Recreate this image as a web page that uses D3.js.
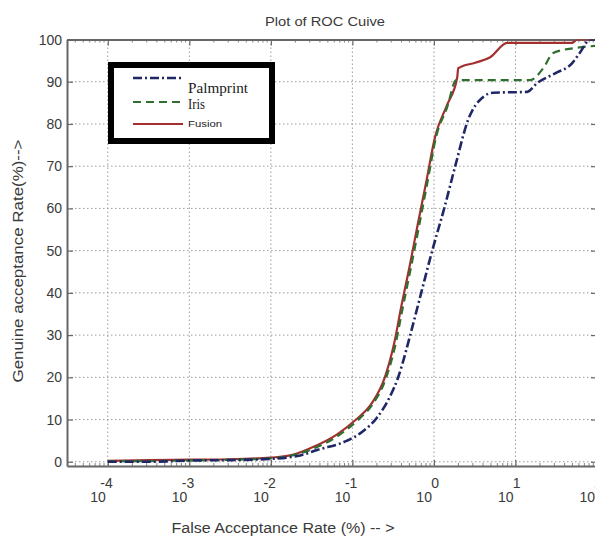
<!DOCTYPE html>
<html>
<head>
<meta charset="utf-8">
<script src="https://cdn.jsdelivr.net/npm/d3@7"></script>
<style>
  html, body { margin: 0; padding: 0; background: #fff; }
  svg { display: block; }
</style>
</head>
<body>
<svg id="chart" width="595" height="541"></svg>
<script>
// False acceptance rate (%) and genuine acceptance rate (%) for each matcher
const palmprintFar = [1e-4, 3.3e-4, 1e-3, 3.2e-3, 0.01, 0.0229, 0.0369, 0.0862, 0.13, 0.201, 0.29, 0.364, 0.408, 0.512, 0.698, 0.953, 1.337, 1.824, 2.63, 4.02, 5.33, 13.9, 18.5, 30.7, 49.7, 62.3, 82.6, 100];
const palmprintGar = [0, 0, 0.3, 0.4, 0.7, 1.5, 2.8, 5, 7, 10.5, 15.5, 20, 23, 30, 40, 50, 60, 70, 81, 86.4, 87.4, 87.6, 89.7, 92, 94.4, 97, 100, 100];

const irisFar = [1e-4, 1e-3, 0.01, 0.0303, 0.065, 0.111, 0.175, 0.255, 0.335, 0.41, 0.51, 0.645, 0.82, 1.066, 1.455, 1.875, 15.2, 21.9, 29.0, 54.1, 100];
const irisGar = [0.1, 0.3, 0.8, 2.8, 6, 9.5, 13.5, 19.5, 27.5, 36, 45, 55, 65.5, 77, 84, 90.4, 90.4, 93.2, 96.8, 98, 98.5];

const fusionFar = [1e-4, 3.3e-4, 1e-3, 3.2e-3, 0.01, 0.0172, 0.0303, 0.065, 0.111, 0.175, 0.25, 0.325, 0.4, 0.5, 0.63, 0.8, 1.035, 1.45, 1.93, 1.985, 3.21, 4.9, 7.92, 49.7, 57.3, 100];
const fusionGar = [0.2, 0.4, 0.5, 0.6, 1.0, 1.5, 3.2, 6.5, 10, 14, 20, 28, 37, 46, 56, 66, 77, 84.5, 91, 93.2, 94.5, 95.8, 99.2, 99.2, 100, 100];

const xTickExponents = [-4, -3, -2, -1, 0, 1, 2];
const yTicks = [0, 10, 20, 30, 40, 50, 60, 70, 80, 90, 100];
const seriesNames = ["Palmprint", "Iris", "Fusion"];

const svg = d3.select("#chart");
const plot = { left: 67, right: 597, top: 39.5, bottom: 466 };

const x = d3.scaleLog().domain([Math.pow(10, -4.5), 100]).range([plot.left, plot.right]);
const y = d3.scaleLinear().domain([-1, 100]).range([plot.bottom, plot.top]);

const axisColor = "#666";
const textColor = "#3a3a3a";
const gridColor = "#9a9a9a";

svg.append("defs").append("clipPath").attr("id", "plotClip")
  .append("rect")
  .attr("x", plot.left).attr("y", plot.top)
  .attr("width", plot.right - plot.left).attr("height", plot.bottom - plot.top);

// Dotted grid
const grid = svg.append("g");
grid.selectAll("line.hg").data(yTicks).join("line")
  .attr("x1", plot.left).attr("x2", plot.right)
  .attr("y1", d => y(d)).attr("y2", d => y(d))
  .attr("stroke", gridColor).attr("stroke-width", 1)
  .attr("stroke-dasharray", "1.5,2.5");
grid.selectAll("line.vg").data(xTickExponents).join("line")
  .attr("x1", d => x(Math.pow(10, d))).attr("x2", d => x(Math.pow(10, d)))
  .attr("y1", plot.top).attr("y2", plot.bottom)
  .attr("stroke", gridColor).attr("stroke-width", 1)
  .attr("stroke-dasharray", "1.5,2.5");

// Minor log ticks along the top and bottom edges
const minorVals = [];
for (let e = -5; e <= 1; e++) for (let m = 2; m <= 9; m++) {
  const v = m * Math.pow(10, e);
  if (v > x.domain()[0] && v < x.domain()[1]) minorVals.push(v);
}
svg.append("g").selectAll("line").data(minorVals).join("line")
  .attr("x1", d => x(d)).attr("x2", d => x(d))
  .attr("y1", plot.bottom).attr("y2", plot.bottom - 3)
  .attr("stroke", axisColor).attr("stroke-width", 0.8);
svg.append("g").selectAll("line").data(minorVals).join("line")
  .attr("x1", d => x(d)).attr("x2", d => x(d))
  .attr("y1", plot.top).attr("y2", plot.top + 3)
  .attr("stroke", axisColor).attr("stroke-width", 0.8);

// Axes with inward ticks
const xAxisBottom = d3.axisBottom(x)
  .tickValues(xTickExponents.map(e => Math.pow(10, e)))
  .tickSizeInner(-6).tickSizeOuter(0).tickFormat("");
const xAxisTop = d3.axisTop(x)
  .tickValues(xTickExponents.map(e => Math.pow(10, e)))
  .tickSizeInner(-6).tickSizeOuter(0).tickFormat("");
const yAxisLeft = d3.axisLeft(y).tickValues(yTicks).tickSizeInner(-6).tickSizeOuter(0).tickFormat("");
const yAxisRight = d3.axisRight(y).tickValues(yTicks).tickSizeInner(-6).tickSizeOuter(0).tickFormat("");

function styleAxis(g) {
  g.selectAll("path.domain").attr("stroke", axisColor).attr("stroke-width", 2);
  g.selectAll(".tick line").attr("stroke", axisColor).attr("stroke-width", 1.2);
}
svg.append("g").attr("transform", `translate(0,${plot.bottom})`).call(xAxisBottom).call(styleAxis);
svg.append("g").attr("transform", `translate(0,${plot.top})`).call(xAxisTop).call(styleAxis);
svg.append("g").attr("transform", `translate(${plot.left},0)`).call(yAxisLeft).call(styleAxis);
svg.append("g").attr("transform", `translate(${plot.right},0)`).call(yAxisRight).call(styleAxis);

// Y tick labels
svg.append("g").selectAll("text").data(yTicks).join("text")
  .attr("x", plot.left - 5).attr("y", d => y(d) + 5)
  .attr("text-anchor", "end")
  .attr("font-family", "Liberation Sans, Arial, sans-serif")
  .attr("font-size", 14).attr("fill", textColor)
  .text(d => d);

// X tick labels: base "10" with raised exponent
const xl = svg.append("g").attr("font-family", "Liberation Sans, Arial, sans-serif").attr("fill", textColor);
xl.selectAll("text.base").data(xTickExponents).join("text")
  .attr("x", d => x(Math.pow(10, d)) - 2).attr("y", 502)
  .attr("text-anchor", "end").attr("font-size", 14)
  .text("10");
xl.selectAll("text.exp").data(xTickExponents).join("text")
  .attr("x", d => x(Math.pow(10, d)) + 5).attr("y", 488)
  .attr("text-anchor", "end").attr("font-size", 14)
  .text(d => d < 0 ? "-" + Math.abs(d) : String(d));

// ROC curves
const line = d3.line()
  .x(d => x(d[0])).y(d => y(d[1]))
  .curve(d3.curveMonotoneX);

const curves = svg.append("g").attr("clip-path", "url(#plotClip)");
const seriesStyles = [
  { far: fusionFar, gar: fusionGar, color: "#a3302f", width: 2.2, dash: null },
  { far: irisFar, gar: irisGar, color: "#2f7030", width: 2.2, dash: "8,5" },
  { far: palmprintFar, gar: palmprintGar, color: "#1f2766", width: 2.6, dash: "9,3,2,3" }
];
seriesStyles.forEach(s => {
  curves.append("path")
    .datum(s.far.map((f, i) => [f, s.gar[i]]))
    .attr("d", line)
    .attr("fill", "none")
    .attr("stroke", s.color)
    .attr("stroke-width", s.width)
    .attr("stroke-dasharray", s.dash);
});

// Legend
const legend = svg.append("g");
legend.append("rect")
  .attr("x", 111).attr("y", 65).attr("width", 161).attr("height", 76)
  .attr("fill", "#fff").attr("stroke", "#000").attr("stroke-width", 6);
legend.append("line").attr("x1", 133).attr("x2", 183).attr("y1", 78).attr("y2", 78)
  .attr("stroke", "#1f2766").attr("stroke-width", 2.6).attr("stroke-dasharray", "9,3,2,3");
legend.append("line").attr("x1", 133).attr("x2", 183).attr("y1", 102).attr("y2", 102)
  .attr("stroke", "#2f7030").attr("stroke-width", 2.2).attr("stroke-dasharray", "8,5");
legend.append("line").attr("x1", 133).attr("x2", 183).attr("y1", 124).attr("y2", 124)
  .attr("stroke", "#a3302f").attr("stroke-width", 2.2);
legend.append("text").attr("x", 188).attr("y", 93)
  .attr("font-family", "Liberation Serif, Times New Roman, serif").attr("font-size", 15)
  .attr("fill", "#222").attr("textLength", 60).attr("lengthAdjust", "spacingAndGlyphs")
  .text(seriesNames[0]);
legend.append("text").attr("x", 188).attr("y", 109)
  .attr("font-family", "Liberation Serif, Times New Roman, serif").attr("font-size", 15)
  .attr("fill", "#222").attr("textLength", 17).attr("lengthAdjust", "spacingAndGlyphs")
  .text(seriesNames[1]);
legend.append("text").attr("x", 188).attr("y", 127)
  .attr("font-family", "Liberation Sans, Arial, sans-serif").attr("font-size", 9)
  .attr("fill", "#222").attr("textLength", 34).attr("lengthAdjust", "spacingAndGlyphs")
  .text(seriesNames[2]);

// Title and axis labels
svg.append("text").attr("x", 325).attr("y", 26).attr("text-anchor", "middle")
  .attr("font-family", "Liberation Sans, Arial, sans-serif").attr("font-size", 13)
  .attr("fill", textColor).attr("textLength", 120).attr("lengthAdjust", "spacingAndGlyphs")
  .text("Plot of ROC Cuive");
svg.append("text").attr("x", 283).attr("y", 533).attr("text-anchor", "middle")
  .attr("font-family", "Liberation Sans, Arial, sans-serif").attr("font-size", 14)
  .attr("fill", textColor).attr("textLength", 223).attr("lengthAdjust", "spacingAndGlyphs")
  .text("False Acceptance Rate (%) -- >");
svg.append("text")
  .attr("transform", "translate(23,261) rotate(-90)")
  .attr("text-anchor", "middle")
  .attr("font-family", "Liberation Sans, Arial, sans-serif").attr("font-size", 14)
  .attr("fill", textColor).attr("textLength", 243).attr("lengthAdjust", "spacingAndGlyphs")
  .text("Genuine acceptance Rate(%)-->");
</script>
</body>
</html>
